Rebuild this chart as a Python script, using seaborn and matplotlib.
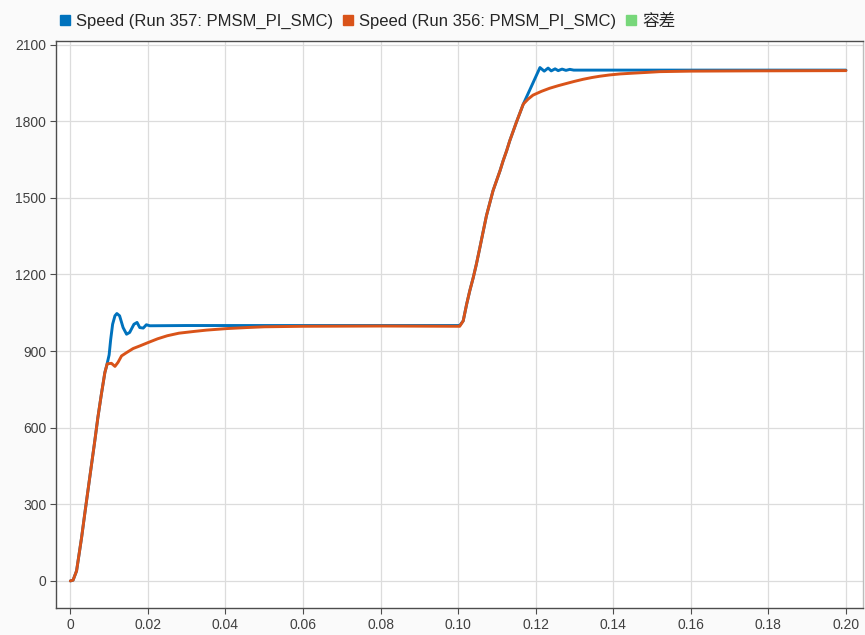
import numpy as np
import pandas as pd
import seaborn as sns
import matplotlib.pyplot as plt
from matplotlib.lines import Line2D

# =========================================================
# DATA
# =========================================================

t_357 = [0, 0.0007, 0.0016, 0.0029, 0.0037, 0.0050, 0.0063, 0.0071, 0.0080, 0.0089,
         0.0094, 0.0100, 0.0104, 0.0109, 0.0115, 0.0120, 0.0127, 0.0136, 0.0145, 0.0153,
         0.0164, 0.0172, 0.0179, 0.0188, 0.0196, 0.0205, 0.0300, 0.0500, 0.0800, 0.1000,
         0.1004, 0.1013, 0.1022, 0.1030, 0.1039, 0.1047, 0.1056, 0.1064, 0.1073, 0.1082,
         0.1090, 0.1099, 0.1108, 0.1116, 0.1125, 0.1133, 0.1150, 0.1168, 0.1190, 0.1211,
         0.1222, 0.1232, 0.1240, 0.1250, 0.1258, 0.1268, 0.1278, 0.1288, 0.1298, 0.1310,
         0.1600, 0.2000]
speed_357 = [0, 3, 39, 170, 261, 405, 548, 640, 731, 816,
             845, 885, 945, 1005, 1038, 1047, 1038, 992, 966, 973,
             1005, 1012, 992, 990, 1003, 999, 1000, 1000, 1000, 1000,
             1000, 1018, 1084, 1136, 1188, 1240, 1305, 1364, 1430, 1482,
             1528, 1567, 1606, 1645, 1684, 1723, 1795, 1867, 1940, 2010,
             1996, 2008, 1997, 2005, 1998, 2004, 1999, 2003, 2000, 2000,
             2000, 2000]

t_356 = [0, 0.0007, 0.0016, 0.0029, 0.0037, 0.0050, 0.0063, 0.0071, 0.0080, 0.0089,
         0.0095, 0.0106, 0.0115, 0.0123, 0.0132, 0.0145, 0.0162, 0.0179, 0.0200, 0.0225,
         0.0250, 0.0280, 0.0320, 0.0351, 0.0403, 0.0454, 0.0500, 0.0600, 0.0800, 0.1000,
         0.1004, 0.1013, 0.1022, 0.1030, 0.1039, 0.1047, 0.1056, 0.1064, 0.1073, 0.1082,
         0.1090, 0.1099, 0.1108, 0.1116, 0.1125, 0.1133, 0.1150, 0.1168, 0.1180, 0.1193,
         0.1215, 0.1236, 0.1258, 0.1280, 0.1300, 0.1322, 0.1345, 0.1365, 0.1390, 0.1417,
         0.1450, 0.1486, 0.1520, 0.1600, 0.1750, 0.2000]
speed_356 = [0, 3, 39, 170, 261, 405, 548, 640, 731, 816,
             850, 852, 840, 856, 881, 894, 910, 920, 933, 948,
             960, 970, 977, 982, 988, 992, 995, 997, 998, 997,
             997, 1018, 1084, 1136, 1188, 1240, 1305, 1364, 1430, 1482,
             1528, 1567, 1606, 1645, 1684, 1723, 1795, 1867, 1886, 1902,
             1917, 1929, 1939, 1948, 1956, 1964, 1971, 1976, 1981, 1985,
             1988, 1991, 1994, 1996, 1997, 1998]

legend_labels = ["Speed (Run 357: PMSM_PI_SMC)", "Speed (Run 356: PMSM_PI_SMC)", "容差"]
legend_colors = ["#0072BD", "#D95319", "#77D77A"]

x_ticks = [0, 0.02, 0.04, 0.06, 0.08, 0.10, 0.12, 0.14, 0.16, 0.18, 0.20]
x_tick_labels = ["0", "0.02", "0.04", "0.06", "0.08", "0.10", "0.12", "0.14", "0.16", "0.18", "0.20"]
y_ticks = [0, 300, 600, 900, 1200, 1500, 1800, 2100]

# =========================================================
# PLOT
# =========================================================

sns.set_theme(style="whitegrid")
plt.rcParams["font.family"] = ["Liberation Sans", "Noto Sans CJK SC", "DejaVu Sans"]

df_357 = pd.DataFrame({"t": t_357, "speed": speed_357})
df_356 = pd.DataFrame({"t": t_356, "speed": speed_356})

fig = plt.figure(figsize=(8.65, 6.35), dpi=100, facecolor="#FAFAFA")
ax = fig.add_axes([56 / 865, 1 - 608 / 635, (863 - 56) / 865, (608 - 41) / 635])
ax.set_facecolor("white")

sns.lineplot(data=df_357, x="t", y="speed", ax=ax, color=legend_colors[0],
             linewidth=2.1, sort=False, estimator=None)
sns.lineplot(data=df_356, x="t", y="speed", ax=ax, color=legend_colors[1],
             linewidth=2.1, sort=False, estimator=None)

ax.set_xlim(-0.0037, 0.2044)
ax.set_ylim(-106, 2114)
ax.set_xticks(x_ticks)
ax.set_xticklabels(x_tick_labels)
ax.set_yticks(y_ticks)
ax.set_xlabel("")
ax.set_ylabel("")

ax.grid(True, color="#DCDCDC", linewidth=0.9)
for side in ["left", "bottom", "top", "right"]:
    ax.spines[side].set_visible(True)
    ax.spines[side].set_color("#4D4D4D")
    ax.spines[side].set_linewidth(1.0)
ax.spines["right"].set_color("#BDBDBD")

ax.tick_params(axis="both", which="major", direction="out", length=4, width=0.8,
               color="#4D4D4D", labelcolor="#404040", labelsize=10,
               bottom=True, left=True, pad=3)

handles = [Line2D([0], [0], marker="s", linestyle="none", markersize=7.5,
                  markerfacecolor=c, markeredgecolor=c) for c in legend_colors]
fig.legend(handles, legend_labels, loc="center left", bbox_to_anchor=(59 / 865, 1 - 21 / 635),
           ncol=3, frameon=False, fontsize=12, handlelength=0.7, handletextpad=0.35,
           columnspacing=0.5, borderpad=0, borderaxespad=0, labelcolor="#262626")

plt.savefig("out.png", dpi=100, facecolor=fig.get_facecolor())
